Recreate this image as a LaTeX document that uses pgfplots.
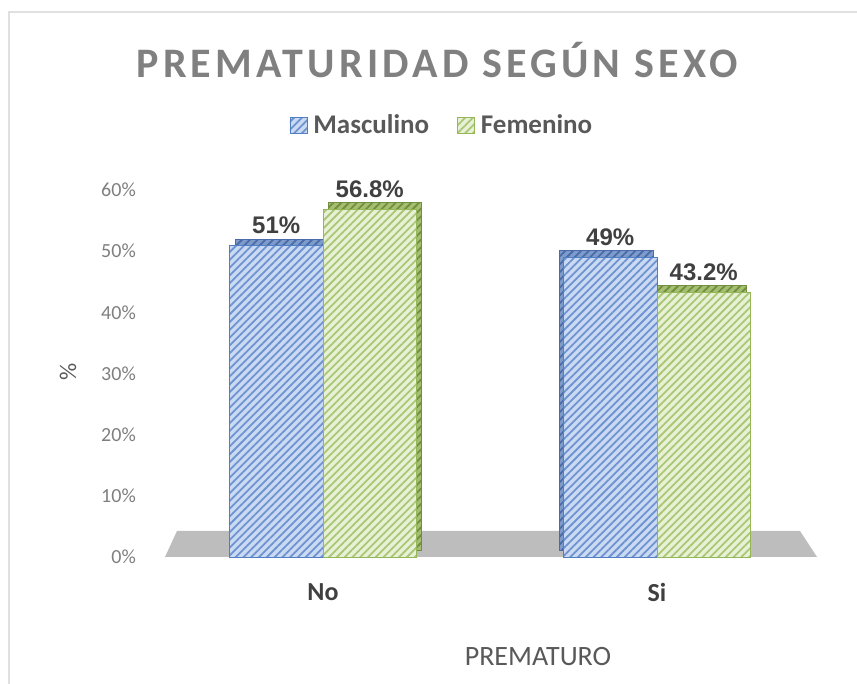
\documentclass[border=0pt]{standalone}
\usepackage{fontspec}
\setmainfont{Carlito}
\newfontfamily\arialfont{Liberation Sans}
\newfontfamily\titlefont[LetterSpace=10]{Carlito}
\usepackage{pgfplots}
\pgfplotsset{compat=1.18}
\usetikzlibrary{patterns.meta}

\definecolor{mascFill}{HTML}{C9DAF2}
\definecolor{mascLine}{HTML}{6F93D0}
\definecolor{mascEdge}{HTML}{4F7EC2}
\definecolor{mascDark}{HTML}{7E9CCB}
\definecolor{mascDarkLine}{HTML}{4A6BA8}
\definecolor{femFill}{HTML}{E8F1D5}
\definecolor{femLine}{HTML}{A9C775}
\definecolor{femEdge}{HTML}{95B75A}
\definecolor{femDark}{HTML}{A5BE72}
\definecolor{femDarkLine}{HTML}{718F3C}
\definecolor{floorgray}{HTML}{BDBDBD}
\definecolor{titlegray}{HTML}{808080}
\definecolor{labelgray}{HTML}{595959}
\definecolor{tickgray}{HTML}{7F7F7F}
\definecolor{valgray}{HTML}{404040}

\pgfplotsset{
  hatch/.style={postaction={pattern={Lines[angle=45,distance=5.5pt,line width=1.8pt]}, pattern color=#1}},
  mylegend/.style={legend image code/.code={\draw[##1] (0pt,-8pt) rectangle (17pt,8pt);}},
  bar3d/.style={ybar, bar width=0.28, forget plot, line width=0.8pt},
  vallabel/.style={draw=none, forget plot, nodes near coords, point meta=explicit symbolic,
      every node near coord/.append style={font=\arialfont\bfseries\fontsize{24}{28}\selectfont,
        text=valgray, anchor=base, inner sep=0pt, yshift=12pt}},
}

\begin{document}
\begin{tikzpicture}[x=1pt,y=1pt]
\useasboundingbox (0,0) rectangle (857,684);
\draw[color=black!12, line width=1.5pt] (9,-5) -- (9,672) -- (870,672);
% grey floor
\fill[floorgray] (165,127) -- (177,153) -- (800,153) -- (817,127) -- cycle;
\node[font=\titlefont\bfseries\fontsize{42}{50}\selectfont, text=titlegray] at (437,624) {PREMATURIDAD SEGÚN SEXO};
\node[rotate=90, font=\fontsize{24}{28}\selectfont, text=labelgray] at (68,312) {\%};
\node[font=\fontsize{28}{32}\selectfont, text=labelgray] at (538,27) {PREMATURO};

\begin{axis}[
    at={(156pt,127pt)}, anchor=south west,
    scale only axis, width=668pt, height=367pt,
    xmin=-0.5, xmax=1.5, ymin=0, ymax=60,
    axis line style={draw=none}, tick style={draw=none},
    clip=false,
    xtick={0,1}, xticklabels={No,Si},
    xticklabel style={font=\bfseries\fontsize{26}{30}\selectfont, text=valgray, inner sep=0pt, yshift=-26pt},
    ytick={0,10,...,60},
    yticklabels={0\%,10\%,20\%,30\%,40\%,50\%,60\%},
    yticklabel style={font=\fontsize{20}{24}\selectfont, text=tickgray, inner sep=0pt, xshift=-20pt},
    legend columns=2,
    legend style={at={(0.428,1.177)}, anchor=center, draw=none, fill=none,
        font=\bfseries\fontsize{27}{30}\selectfont, text=labelgray,
        /tikz/every odd column/.append style={column sep=4pt},
        /tikz/every even column/.append style={column sep=26pt}},
    legend cell align=left,
  ]
  % depth faces (drawn first, behind the fronts)
  \addplot[bar3d, bar shift=-0.14, fill=mascDark, draw=mascDarkLine, hatch=mascDarkLine, xshift=6pt, yshift=6pt]
    coordinates {(0,51)};
  \addplot[bar3d, bar shift=0.14, fill=femDark, draw=femDarkLine, hatch=femDarkLine, xshift=5pt, yshift=7pt]
    coordinates {(0,56.8)};
  \addplot[bar3d, bar shift=-0.14, fill=mascDark, draw=mascDarkLine, hatch=mascDarkLine, xshift=-4pt, yshift=7pt]
    coordinates {(1,49)};
  \addplot[bar3d, bar shift=0.14, fill=femDark, draw=femDarkLine, hatch=femDarkLine, xshift=-4pt, yshift=7pt]
    coordinates {(1,43.2)};
  % front faces
  \addplot[ybar, bar width=0.28, bar shift=-0.14, fill=mascFill, draw=mascEdge, line width=0.8pt, hatch=mascLine, mylegend]
    coordinates {(0,51) (1,49)};
  \addlegendentry{Masculino}
  \addplot[ybar, bar width=0.28, bar shift=0.14, fill=femFill, draw=femEdge, line width=0.8pt, hatch=femLine, mylegend]
    coordinates {(0,56.8) (1,43.2)};
  \addlegendentry{Femenino}
  % value labels
  \addplot[vallabel] coordinates {(-0.14,51)[51\%] (0.86,49)[49\%]};
  \addplot[vallabel] coordinates {(0.14,56.8)[56.8\%] (1.14,43.2)[43.2\%]};
\end{axis}
\end{tikzpicture}
\end{document}
